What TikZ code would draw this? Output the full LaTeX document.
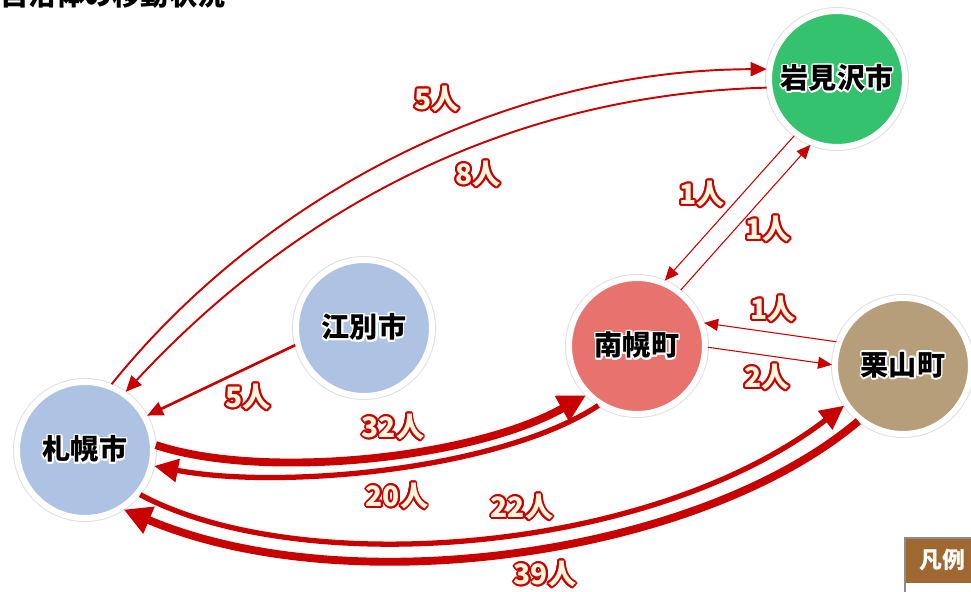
\documentclass[tikz,border=0pt]{standalone}
\usepackage{fontspec}
\usepackage{xcolor}
\usepackage{contour}
\usepackage{tikz}
\usetikzlibrary{arrows.meta}
\newfontfamily\jp{Noto Sans CJK JP}
\definecolor{arrowred}{RGB}{200,0,0}
\definecolor{labfill}{RGB}{255,246,222}
\definecolor{sapblue}{RGB}{174,195,228}
\definecolor{nanred}{RGB}{232,115,110}
\definecolor{kurbrown}{RGB}{183,158,122}
\definecolor{iwagreen}{RGB}{52,194,110}
\definecolor{legbrown}{RGB}{158,104,48}
\newcommand{\citytext}[1]{{\contourlength{0.9pt}\contour{white}{#1}}}
\newcommand{\numlab}[1]{{\contourlength{1.1pt}\color{labfill}\contour{arrowred}{#1}}}
\tikzset{
city/.style={circle,fill=#1,draw=white,line width=0.12cm,minimum size=2.72cm,inner sep=0pt,
  font=\jp\bfseries\fontsize{16}{16}\selectfont,preaction={draw=black!12,line width=0.16cm}},
num/.style={inner sep=0pt,font=\jp\bfseries\fontsize{16}{16}\selectfont},
flow/.style={draw=arrowred,line width=#1},
bigtip/.style={-{Triangle[length=0.55cm,width=0.55cm]}},
midtip/.style={-{Triangle[length=0.48cm,width=0.45cm]}},
smalltip/.style={-{Triangle[length=0.32cm,width=0.28cm]}},
tinytip/.style={-{Triangle[length=0.28cm,width=0.24cm]}}
}
\begin{document}
\begin{tikzpicture}[x=0.02cm,y=-0.02cm]
\useasboundingbox (0,0) rectangle (971,592);
\node[anchor=base west,inner sep=0pt,font=\jp\bfseries\fontsize{16}{16}\selectfont] (title) at (0,5) {自治体の移動状況};
% cities
\node[city=sapblue] (sap) at (85,450) {\citytext{札幌市}};
\node[city=sapblue] (ebe) at (364,328) {\citytext{江別市}};
\node[city=nanred] (nan) at (637,346) {\citytext{南幌町}};
\node[city=kurbrown] (kur) at (903,366) {\citytext{栗山町}};
\node[city=iwagreen] (iwa) at (837,79) {\citytext{岩見沢市}};
% flows
\draw[flow=1.1pt,smalltip] (sap.68) .. controls (260,200) and (500,70) .. (iwa.172);
\draw[flow=1.1pt,smalltip] (iwa.187) .. controls (500,95) and (290,215) .. (sap.55);
\draw[flow=1.5pt,smalltip] (ebe.194) -- (sap.29);
\draw[flow=0.6pt,tinytip] (iwa.233) -- (nan.67);
\draw[flow=0.6pt,tinytip] (nan.52) -- (iwa.248);
\draw[flow=0.6pt,tinytip] (kur.160) -- (nan.19);
\draw[flow=0.6pt,tinytip] (nan.359) -- (kur.179);
\draw[flow=4.5pt,bigtip] (sap.4) .. controls (260,480) and (470,460) .. (nan.224);
\draw[flow=3pt,midtip] (nan.237) .. controls (500,470) and (280,490) .. (sap.347);
\draw[flow=3pt,midtip] (sap.321) .. controls (300,580) and (650,555) .. (kur.214);
\draw[flow=4.5pt,bigtip] (kur.231) .. controls (700,555) and (350,605) .. (sap.303);
% numbers
\node[num] (l1) at (437,100) {\numlab{5人}};
\node[num] (l2) at (478,175) {\numlab{8人}};
\node[num] (l3) at (248,398) {\numlab{5人}};
\node[num] (l4) at (702,195) {\numlab{1人}};
\node[num] (l5) at (768,230) {\numlab{1人}};
\node[num] (l6) at (773,310) {\numlab{1人}};
\node[num] (l7) at (767,378) {\numlab{2人}};
\node[num] (l8) at (393,428) {\numlab{32人}};
\node[num] (l9) at (397,497) {\numlab{20人}};
\node[num] (l10) at (522,508) {\numlab{22人}};
\node[num] (l11) at (545,575) {\numlab{39人}};
% legend
\fill[legbrown] (906,539) rectangle (980,583);
\draw[black!45,line width=1pt] (905,600) -- (905,538) -- (980,538);
\node[inner sep=0pt,text=white,font=\jp\bfseries\fontsize{13}{13}\selectfont] (leg) at (942,560) {凡例};
\end{tikzpicture}
\end{document}
